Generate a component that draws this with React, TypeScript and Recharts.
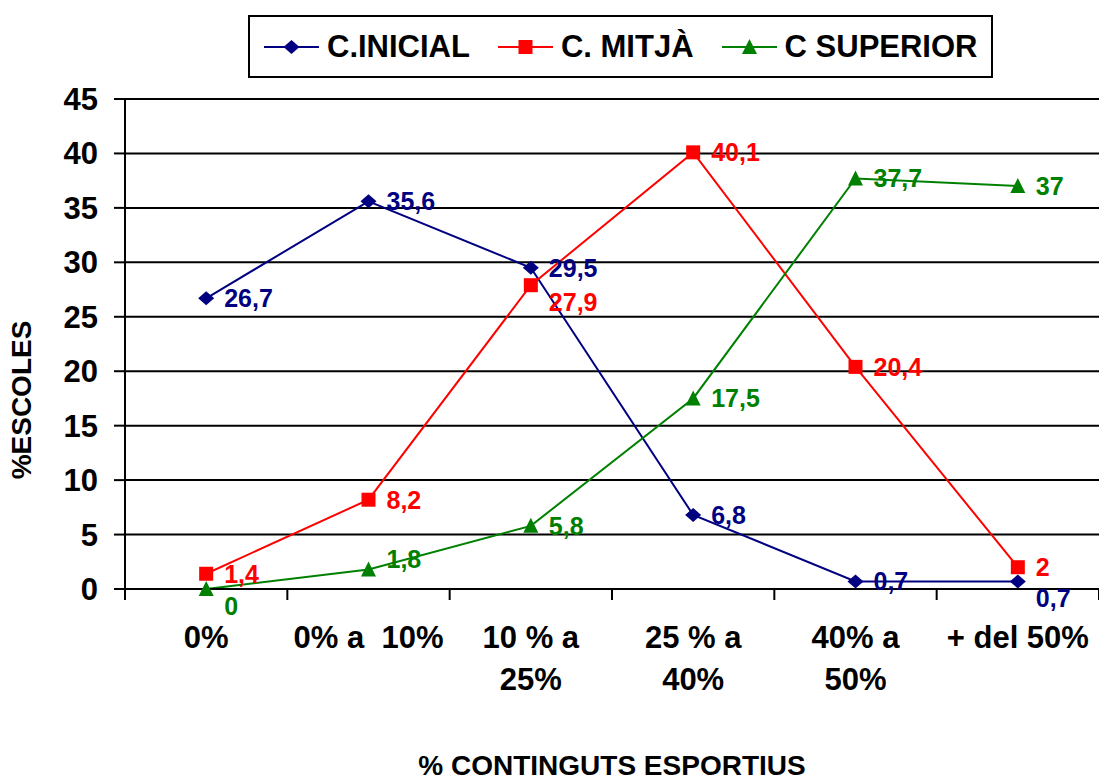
import React from 'react';
import { ComposedChart, Line, XAxis, YAxis, CartesianGrid, Legend } from 'recharts';

const categories = ['0%', '0% a  10%', '10 % a\n25%', '25 % a\n40%', '40% a\n50%', '+ del 50%'];
const inicial = [26.7, 35.6, 29.5, 6.8, 0.7, 0.7];
const mitja = [1.4, 8.2, 27.9, 40.1, 20.4, 2];
const superior = [0, 1.8, 5.8, 17.5, 37.7, 37];
const yTicks = [0, 5, 10, 15, 20, 25, 30, 35, 40, 45];
const seriesNames = ['C.INICIAL', 'C. MITJÀ', 'C SUPERIOR'];
const xTitle = '% CONTINGUTS ESPORTIUS';
const yTitle = '%ESCOLES';

const data = categories.map((c, i) => ({
  cat: c,
  inicial: inicial[i],
  mitja: mitja[i],
  superior: superior[i],
}));

const FONT = '"Liberation Sans", Arial, Helvetica, sans-serif';
const BLUE = '#000080';
const RED = '#FF0000';
const GREEN = '#008000';

const CHART_W = 1099;
const Y_AXIS_W = 125;
const BAND = (CHART_W - Y_AXIS_W) / categories.length;

// label vertical shifts (style only)
const labelShift: Record<string, Record<number, number>> = {
  inicial: { 5: 17 },
  mitja: { 2: 17 },
  superior: { 0: 17, 1: -10 },
};

type MarkerKind = 'diamond' | 'square' | 'triangle';

const marker = (kind: MarkerKind, cx: number, cy: number, fill: string, key?: any) => {
  if (kind === 'diamond') {
    return (
      <polygon key={key} points={`${cx},${cy - 7} ${cx + 8},${cy} ${cx},${cy + 7} ${cx - 8},${cy}`} fill={fill} />
    );
  }
  if (kind === 'square') {
    return <rect key={key} x={cx - 7} y={cy - 7} width={14} height={14} fill={fill} />;
  }
  return (
    <polygon key={key} points={`${cx},${cy - 8} ${cx + 7.5},${cy + 7} ${cx - 7.5},${cy + 7}`} fill={fill} />
  );
};

const makeDot = (kind: MarkerKind, fill: string) => (p: any) => {
  if (p == null || p.cx == null || p.cy == null) return <g key={p?.index} />;
  return marker(kind, p.cx, p.cy, fill, p.index);
};

const makeLabel = (series: string, fill: string) => (p: any) => {
  const { x, y, value, index } = p;
  if (x == null || y == null) return <g key={index} />;
  const dy = (labelShift[series] && labelShift[series][index]) || 0;
  return (
    <text
      key={index}
      x={x + 18}
      y={y + dy}
      dominantBaseline="central"
      textAnchor="start"
      fill={fill}
      style={{ fontFamily: FONT, fontWeight: 'bold', fontSize: 25 }}
    >
      {String(value).replace('.', ',')}
    </text>
  );
};

const CatTick = (props: any) => {
  const { x, y, payload, index } = props;
  const lines = String(payload.value).split('\n');
  const isLast = index === categories.length - 1;
  return (
    <g>
      <line x1={x - BAND / 2} y1={y} x2={x - BAND / 2} y2={y + 11} stroke="#000" strokeWidth={2} />
      {isLast && (
        <line x1={x + BAND / 2} y1={y} x2={x + BAND / 2} y2={y + 11} stroke="#000" strokeWidth={2} />
      )}
      {lines.map((l, i) => (
        <text
          key={i}
          x={x}
          y={y + 59 + i * 42}
          textAnchor="middle"
          fill="#000"
          style={{ fontFamily: FONT, fontWeight: 'bold', fontSize: 31, whiteSpace: 'pre' }}
        >
          {l}
        </text>
      ))}
    </g>
  );
};

const legendItems: { name: string; color: string; kind: MarkerKind }[] = [
  { name: seriesNames[0], color: BLUE, kind: 'diamond' },
  { name: seriesNames[1], color: RED, kind: 'square' },
  { name: seriesNames[2], color: GREEN, kind: 'triangle' },
];

const LegendBox = () => (
  <div
    style={{
      boxSizing: 'border-box',
      width: 745,
      height: 63,
      border: '2px solid #000',
      display: 'flex',
      alignItems: 'center',
      paddingLeft: 14,
      fontFamily: FONT,
      fontWeight: 'bold',
      fontSize: 31,
      color: '#000',
      background: '#fff',
    }}
  >
    {legendItems.map((it, i) => (
      <div key={i} style={{ display: 'flex', alignItems: 'center', marginRight: 28 }}>
        <svg width={55} height={20} style={{ display: 'block' }}>
          <line x1={0} y1={10} x2={55} y2={10} stroke={it.color} strokeWidth={2} />
          {marker(it.kind, 27.5, 10, it.color)}
        </svg>
        <span style={{ marginLeft: 8, lineHeight: '31px', whiteSpace: 'pre' }}>{it.name}</span>
      </div>
    ))}
  </div>
);

export default function App() {
  return (
    <div style={{ position: 'absolute', left: 0, top: 0, width: CHART_W, height: 782, background: '#fff' }}>
      <ComposedChart
        width={CHART_W}
        height={782}
        data={data}
        margin={{ top: 99, right: 0, bottom: 0, left: 0 }}
      >
        <CartesianGrid vertical={false} stroke="#000" strokeWidth={2} />
        <XAxis
          dataKey="cat"
          scale="band"
          interval={0}
          tickLine={false}
          tickSize={0}
          tickMargin={0}
          axisLine={{ stroke: '#000', strokeWidth: 2 }}
          tick={<CatTick />}
          height={193}
          label={(p: any) => {
            const vb = p.viewBox || { x: 0, y: 589, width: CHART_W, height: 193 };
            return (
              <text
                x={vb.x + vb.width / 2}
                y={vb.y + 186}
                textAnchor="middle"
                fill="#000"
                style={{ fontFamily: FONT, fontWeight: 'bold', fontSize: 28 }}
              >
                {xTitle}
              </text>
            );
          }}
        />
        <YAxis
          type="number"
          domain={[0, 45]}
          ticks={yTicks}
          interval={0}
          width={Y_AXIS_W}
          tickSize={11}
          tickMargin={16}
          axisLine={{ stroke: '#000', strokeWidth: 2 }}
          tickLine={{ stroke: '#000', strokeWidth: 2 }}
          tick={{ fill: '#000', fontFamily: FONT, fontWeight: 'bold', fontSize: 31 }}
          label={(p: any) => {
            const vb = p.viewBox || { x: 0, y: 99, width: Y_AXIS_W, height: 490 };
            const cx = vb.x + 21;
            const cy = vb.y + vb.height / 2 + 56;
            return (
              <text
                x={cx}
                y={cy}
                transform={`rotate(-90, ${cx}, ${cy})`}
                textAnchor="middle"
                dominantBaseline="central"
                fill="#000"
                style={{ fontFamily: FONT, fontWeight: 'bold', fontSize: 28 }}
              >
                {yTitle}
              </text>
            );
          }}
        />
        <Legend
          verticalAlign="middle"
          align="center"
          layout="horizontal"
          content={() => <LegendBox />}
          wrapperStyle={{ top: 15, left: 248, width: 745, height: 63, bottom: 'auto', right: 'auto' }}
        />
        <Line
          dataKey="inicial"
          name={seriesNames[0]}
          stroke={BLUE}
          strokeWidth={2}
          dot={makeDot('diamond', BLUE)}
          activeDot={false}
          label={makeLabel('inicial', BLUE)}
          isAnimationActive={false}
        />
        <Line
          dataKey="mitja"
          name={seriesNames[1]}
          stroke={RED}
          strokeWidth={2}
          dot={makeDot('square', RED)}
          activeDot={false}
          label={makeLabel('mitja', RED)}
          isAnimationActive={false}
        />
        <Line
          dataKey="superior"
          name={seriesNames[2]}
          stroke={GREEN}
          strokeWidth={2}
          dot={makeDot('triangle', GREEN)}
          activeDot={false}
          label={makeLabel('superior', GREEN)}
          isAnimationActive={false}
        />
      </ComposedChart>
    </div>
  );
}
